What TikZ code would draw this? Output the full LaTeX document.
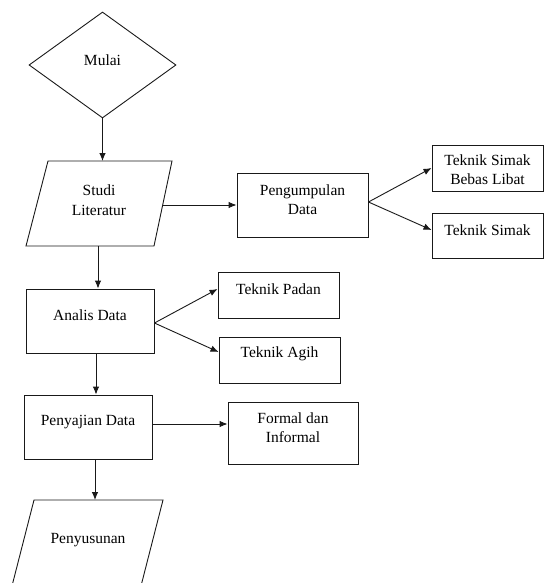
\documentclass[tikz,border=0pt]{standalone}
\usepackage{fontspec}
\setmainfont{Liberation Serif}
\usetikzlibrary{shapes.geometric,arrows.meta}
\begin{document}
\begin{tikzpicture}[x=1pt,y=-1pt,
  box/.style={draw=black!90, line width=0.9pt, rectangle, inner sep=0pt},
  txt/.style={align=center, inner sep=0pt, font=\fontsize{15.5}{19.5}\selectfont, text=black},
  arr/.style={draw=black!90, line width=0.9pt, -{Latex[length=8pt,width=6.5pt]}},
  shp/.style={draw=black!90, line width=0.9pt}]
\useasboundingbox (0,0) rectangle (544,583);
\begin{scope}
\clip (0,0) rectangle (544,583);
% Mulai
\node[diamond, shp, minimum width=147pt, minimum height=106pt, aspect=1.387, inner sep=0pt] (mulai) at (102.5,65) {};
\node[txt] (tmulai) at (102.5,60) {Mulai};
% Studi Literatur
\draw[shp] (48,161) -- (172,161) -- (154,246) -- (26,246) -- cycle;
\coordinate (studin) at (102.5,161);
\coordinate (studis) at (98,246);
\coordinate (studie) at (162.7,205);
\node[txt] (tstudi) at (99,200) {Studi\\Literatur};
% Pengumpulan
\node[box, minimum width=131pt, minimum height=64pt] (peng) at (302.5,205) {};
\node[txt] (tpeng) at (302.5,199.5) {Pengumpulan\\Data};
\node[box, minimum width=111pt, minimum height=46pt] (tsbl) at (487.5,168) {};
\node[txt] (ttsbl) at (487.5,169.5) {Teknik Simak\\Bebas Libat};
\node[box, minimum width=111pt, minimum height=45pt] (ts) at (487.5,235.5) {};
\node[txt] (tts) at (487.5,230) {Teknik Simak};
% Analis
\node[box, minimum width=128pt, minimum height=64pt] (analis) at (90,321) {};
\node[txt] (tanalis) at (90,315) {Analis Data};
\node[box, minimum width=121pt, minimum height=46pt] (padan) at (278.5,295) {};
\node[txt] (tpadan) at (278.5,289) {Teknik Padan};
\node[box, minimum width=121pt, minimum height=46pt] (agih) at (279.5,360) {};
\node[txt] (tagih) at (279.5,354) {Teknik Agih};
% Penyajian
\node[box, minimum width=128pt, minimum height=64pt] (saji) at (88,427) {};
\node[txt] (tsaji) at (88,422) {Penyajian Data};
\node[box, minimum width=130pt, minimum height=62pt] (formal) at (293,433) {};
\node[txt] (tformal) at (293,427.5) {Formal dan\\Informal};
% Penyusunan
\draw[shp] (34,500) -- (163,500) -- (137.4,600) -- (8.4,600) -- cycle;
\coordinate (susunn) at (95,500);
\node[txt] (tsusun) at (88,540) {Penyusunan};
% connectors
\draw[arr] (mulai.south) -- (studin);
\draw[arr] (studie) -- (peng.west);
\draw[arr] ([yshift=3pt]peng.east) -- (tsbl.west);
\draw[arr] ([yshift=3pt]peng.east) -- ([yshift=5.5pt]ts.west);
\draw[arr] (studis) -- (studis |- analis.north);
\draw[arr] ([yshift=-2pt]analis.east) -- ([yshift=6pt]padan.west);
\draw[arr] ([yshift=-2pt]analis.east) -- ([yshift=8pt]agih.west);
\draw[arr] ([xshift=6pt]analis.south) -- ([xshift=8pt]saji.north);
\draw[arr] ([yshift=3pt]saji.east) -- ([yshift=9pt]formal.west);
\draw[arr] ([xshift=7pt]saji.south) -- (susunn);
\end{scope}
\end{tikzpicture}
\end{document}
